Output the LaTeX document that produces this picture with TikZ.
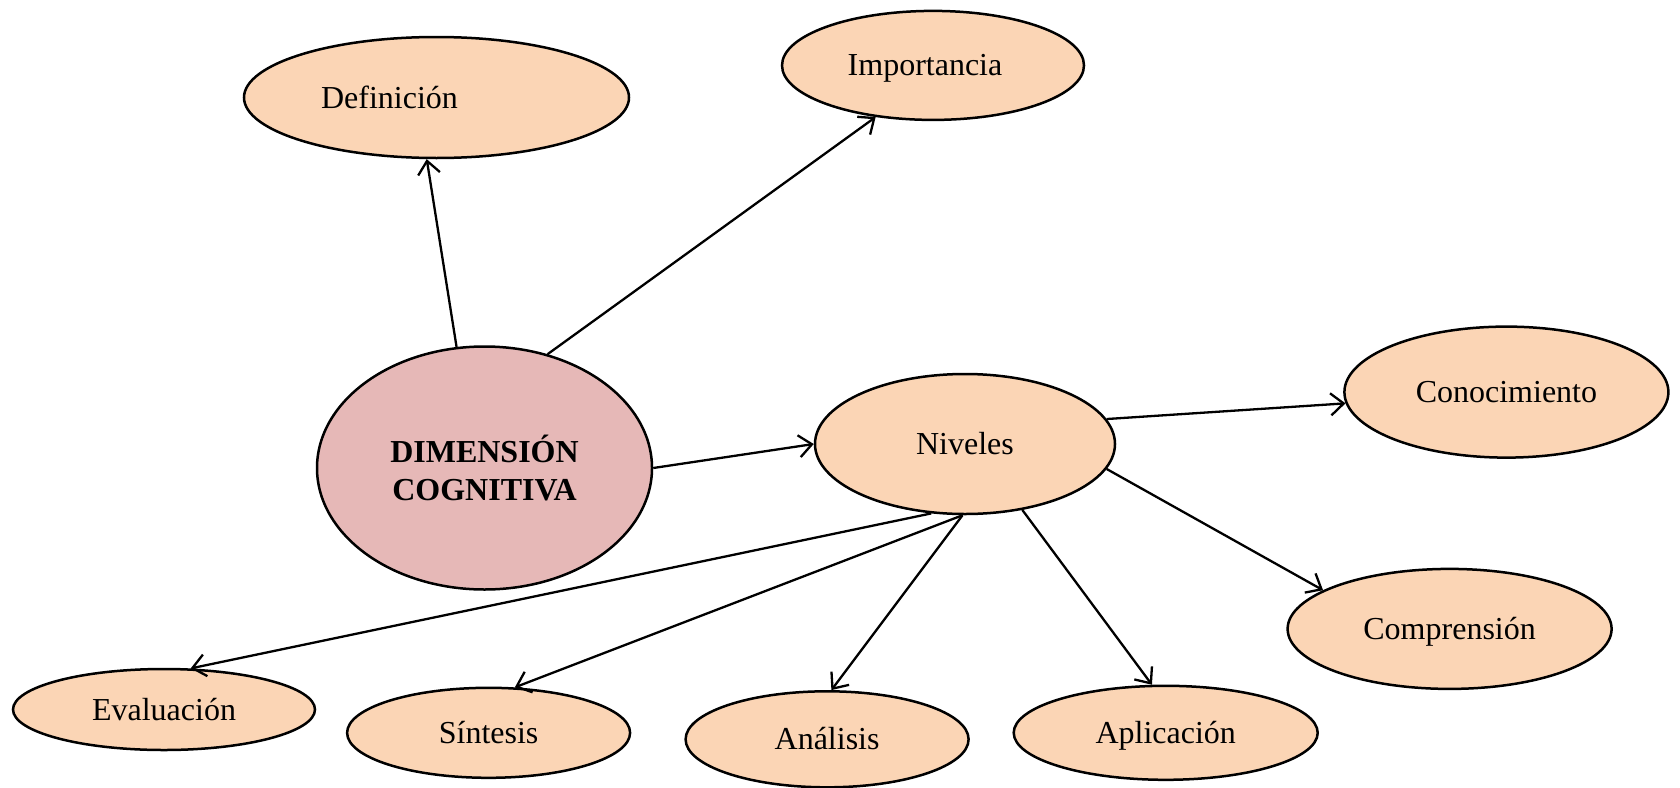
\documentclass[tikz,border=0pt]{standalone}
\usepackage{fontspec}
\setmainfont{Liberation Serif}
\usetikzlibrary{shapes.geometric,arrows.meta}
\definecolor{peach}{HTML}{FBD5B5}
\definecolor{rose}{HTML}{E6B8B7}
\tikzset{
  oval/.style={ellipse, draw=black, line width=2.5pt, fill=peach, inner sep=0pt,
    font=\fontsize{32}{38}\selectfont, text height=28pt, text depth=7pt},
  lbl/.style={font=\fontsize{32}{38}\selectfont, text height=28pt, text depth=7pt},
  conn/.style={line width=2.3pt, -{Straight Barb[length=13pt,width=22pt,line width=2.3pt]}},
}
\begin{document}
\begin{tikzpicture}[x=1pt,y=-1pt]
\useasboundingbox (0,0) rectangle (1680,787);
\node[oval, minimum width=385pt, minimum height=121pt,
  label={[lbl,xshift=-47pt]center:Definición}] (def) at (436.5,97.5) {};
\node[oval, minimum width=302pt, minimum height=109pt,
  label={[lbl,xshift=-8pt]center:Importancia}] (imp) at (933,65.4) {};
\node[oval, fill=rose, minimum width=335pt, minimum height=243pt, align=center,
  text height=, text depth=,
  font=\fontsize{32}{37.5}\selectfont\bfseries] (dim) at (484.5,468) {DIMENSIÓN\\COGNITIVA};
\node[oval, minimum width=300pt, minimum height=140pt] (niv) at (965,444) {Niveles};
\node[oval, minimum width=324pt, minimum height=131pt] (con) at (1506.4,392.1) {Conocimiento};
\node[oval, minimum width=324pt, minimum height=120pt] (com) at (1449.6,628.9) {Comprensión};
\node[oval, minimum width=302pt, minimum height=81pt] (eva) at (164,709.5) {Evaluación};
\node[oval, minimum width=283pt, minimum height=90pt] (sin) at (488.6,732.8) {Síntesis};
\node[oval, minimum width=283pt, minimum height=96pt] (ana) at (827.1,739.3) {Análisis};
\node[oval, minimum width=304pt, minimum height=94pt] (apl) at (1165.7,732.8) {Aplicación};

\draw[conn] (dim.103.7) -- (def.261.9);
\draw[conn] (dim.61.3) -- (imp.222.4);
\draw[conn] (dim.0) -- (niv.180);
\draw[conn] (niv.10.1) -- (con.184.6);
\draw[conn] (niv.350.8) -- (com.163.2);
\draw[conn] (niv.244.9) -- (eva.57.4);
\draw[conn] (niv.268) -- (sin.60.8);
\draw[conn] (niv.268) -- (ana.85.2);
\draw[conn] (niv.311.1) -- (apl.106.8);
\end{tikzpicture}
\end{document}
